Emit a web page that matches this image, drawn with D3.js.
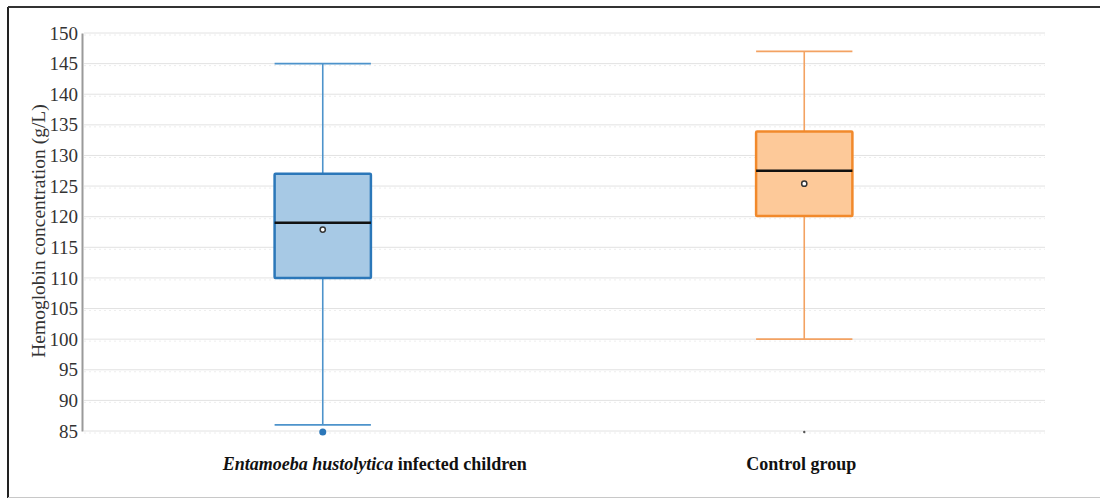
<!DOCTYPE html>
<html>
<head>
<meta charset="utf-8">
<script src="https://cdn.jsdelivr.net/npm/d3@7"></script>
<style>
  html, body { margin: 0; padding: 0; background: #fff; }
  svg { display: block; }
</style>
</head>
<body>
<svg id="chart" width="1100" height="499"></svg>
<script>
// Hemoglobin box plot: two groups
const categories = ["Entamoeba hustolytica infected children", "Control group"];
const whiskerLow  = [86, 100];
const q1          = [110, 120.1];
const medians     = [119, 127.5];
const q3          = [127, 133.9];
const whiskerHigh = [145, 147];
const means       = [117.9, 125.4];
const outliers    = [[85], [85]];
const yTicks      = [85, 90, 95, 100, 105, 110, 115, 120, 125, 130, 135, 140, 145, 150];

const fills    = ["#a7c9e5", "#fdc999"];
const strokes  = ["#2b77b9", "#f1892b"];
const whiskerC = ["#4d93cb", "#f3a262"];

const svg = d3.select("#chart");
const serif = "'Liberation Serif', 'Times New Roman', serif";

// frame
svg.append("line").attr("x1", 8).attr("x2", 8).attr("y1", 7).attr("y2", 498)
  .attr("stroke", "#222").attr("stroke-width", 2);
svg.append("line").attr("x1", 8).attr("x2", 1100).attr("y1", 7).attr("y2", 7)
  .attr("stroke", "#333").attr("stroke-width", 2);
svg.append("line").attr("x1", 8).attr("x2", 1100).attr("y1", 497.5).attr("y2", 497.5)
  .attr("stroke", "#c8c8c8").attr("stroke-width", 1);

const y = d3.scaleLinear().domain([85, 150]).range([431, 33]);
const x = d3.scalePoint().domain(categories).range([82, 1045]).padding(0.5);
const boxW = x.step() * 0.2;

// grid
svg.append("g").selectAll("line").data(yTicks).join("line")
  .attr("x1", 84).attr("x2", 1045)
  .attr("y1", d => y(d)).attr("y2", d => y(d))
  .attr("stroke", "#e2e2e2").attr("stroke-width", 1);
svg.append("g").selectAll("line").data(yTicks).join("line")
  .attr("x1", 84).attr("x2", 1045)
  .attr("y1", d => y(d) + 2).attr("y2", d => y(d) + 2)
  .attr("stroke", "#eeeeee").attr("stroke-width", 1).attr("stroke-dasharray", "2,3");

// y axis
const yAxis = d3.axisLeft(y).tickValues(yTicks).tickSize(0).tickPadding(4);
const gy = svg.append("g").attr("transform", "translate(82,0)").call(yAxis);
gy.select(".domain").attr("stroke", "#9a9a9a").attr("stroke-width", 2);
gy.selectAll("text").attr("font-family", serif).attr("font-size", 19).attr("fill", "#333");

svg.append("text")
  .attr("transform", "translate(45,231) rotate(-90)")
  .attr("text-anchor", "middle")
  .attr("font-family", serif).attr("font-size", 19.5).attr("fill", "#333")
  .text("Hemoglobin concentration (g/L)");

// boxes
const g = svg.append("g");
categories.forEach((c, i) => {
  const cx = x(c), x0 = cx - boxW / 2, w = boxW;
  const grp = g.append("g");
  // whiskers
  grp.append("line").attr("x1", cx).attr("x2", cx)
    .attr("y1", y(whiskerHigh[i])).attr("y2", y(q3[i]))
    .attr("stroke", whiskerC[i]).attr("stroke-width", 1.6);
  grp.append("line").attr("x1", cx).attr("x2", cx)
    .attr("y1", y(q1[i])).attr("y2", y(whiskerLow[i]))
    .attr("stroke", whiskerC[i]).attr("stroke-width", 1.6);
  [whiskerHigh[i], whiskerLow[i]].forEach(v => {
    grp.append("line").attr("x1", x0).attr("x2", x0 + w)
      .attr("y1", y(v)).attr("y2", y(v))
      .attr("stroke", whiskerC[i]).attr("stroke-width", 1.6);
  });
  // box
  grp.append("rect").attr("x", x0).attr("y", y(q3[i]))
    .attr("width", w).attr("height", y(q1[i]) - y(q3[i]))
    .attr("fill", fills[i]).attr("stroke", strokes[i]).attr("stroke-width", 2.5)
    .attr("rx", 1);
  // median
  grp.append("line").attr("x1", x0).attr("x2", x0 + w)
    .attr("y1", y(medians[i])).attr("y2", y(medians[i]))
    .attr("stroke", "#111").attr("stroke-width", 2.5);
  // mean
  grp.append("circle").attr("cx", cx).attr("cy", y(means[i])).attr("r", 2.6)
    .attr("fill", "#fff").attr("stroke", "#333").attr("stroke-width", 1.5);
  // outliers
  grp.selectAll(".out").data(outliers[i]).join("circle")
    .attr("cx", cx).attr("cy", d => y(d) + 1)
    .attr("r", i === 0 ? 3.5 : 1.2)
    .attr("fill", i === 0 ? strokes[0] : "#555");
});

// category labels
const lab0 = svg.append("text")
  .attr("x", x(categories[0]) + 52).attr("y", 470)
  .attr("text-anchor", "middle")
  .attr("font-family", serif).attr("font-size", 18).attr("font-weight", "bold").attr("fill", "#111");
lab0.append("tspan").attr("font-style", "italic").text("Entamoeba hustolytica");
lab0.append("tspan").text(" infected children");

svg.append("text")
  .attr("x", x(categories[1]) - 3).attr("y", 470)
  .attr("text-anchor", "middle")
  .attr("font-family", serif).attr("font-size", 18).attr("font-weight", "bold").attr("fill", "#111")
  .text(categories[1]);
</script>
</body>
</html>
